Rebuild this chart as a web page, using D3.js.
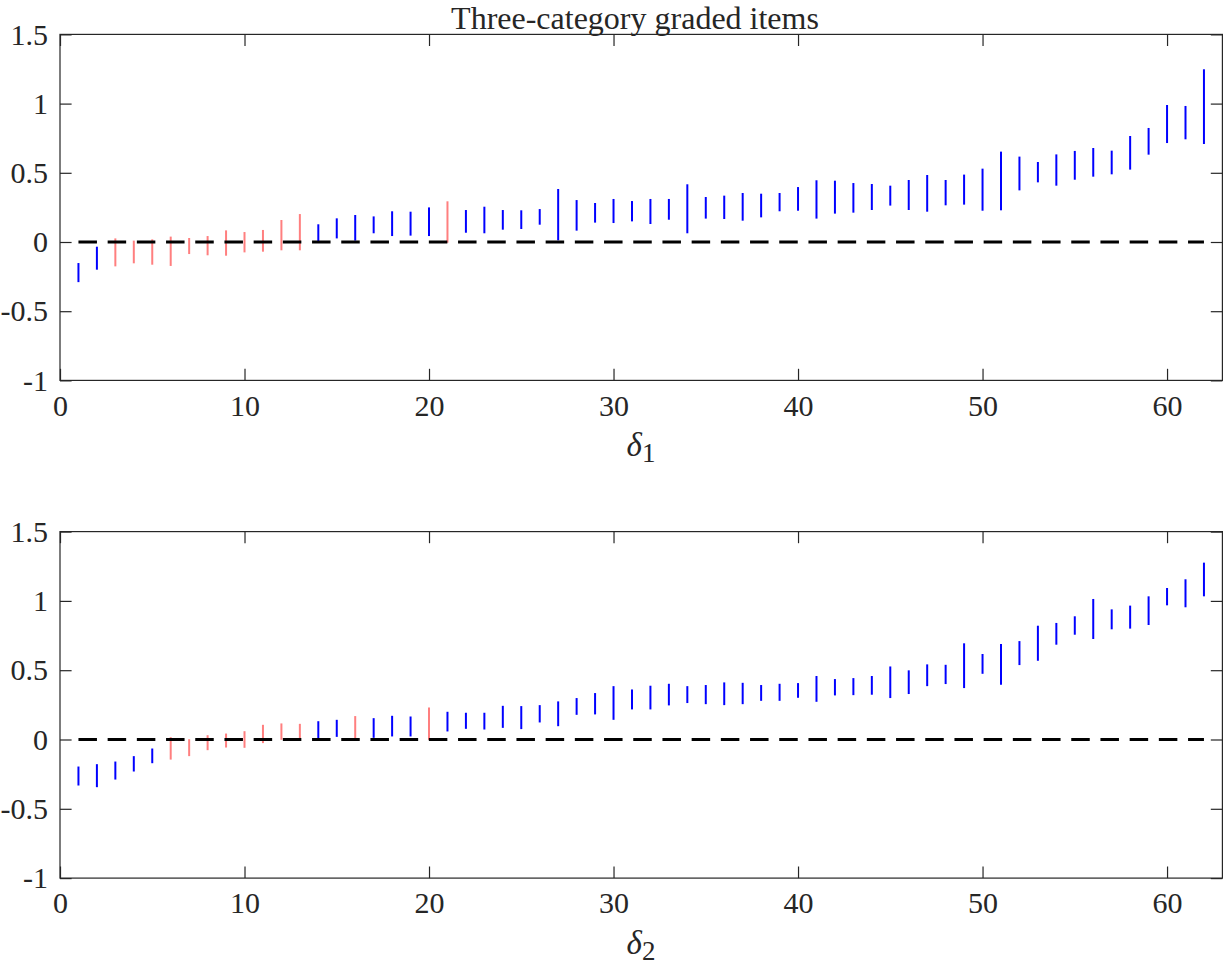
<!DOCTYPE html>
<html>
<head>
<meta charset="utf-8">
<script src="https://cdn.jsdelivr.net/npm/d3@7"></script>
<style>
  html, body { margin: 0; padding: 0; background: #fff; }
  svg { display: block; }
  text { font-family: "Liberation Serif", "Times New Roman", serif; fill: #262626; }
</style>
</head>
<body>
<svg id="chart" width="1224" height="968"></svg>
<script>
// ---- data ----
const items = d3.range(1, 63);
const d1Lower = [-0.29,-0.20,-0.176,-0.154,-0.164,-0.173,-0.087,-0.096,-0.099,-0.075,-0.070,-0.060,-0.060,0.005,0.026,0.010,0.063,0.043,0.046,0.043,-0.005,0.067,0.063,0.089,0.094,0.125,0.012,0.082,0.140,0.137,0.149,0.130,0.161,0.063,0.169,0.166,0.154,0.178,0.222,0.226,0.169,0.205,0.212,0.231,0.263,0.231,0.219,0.265,0.270,0.226,0.229,0.373,0.431,0.407,0.450,0.472,0.489,0.523,0.631,0.715,0.742,0.708];
const d1Upper = [-0.152,-0.034,0.026,0.010,0.019,0.039,0.029,0.043,0.084,0.072,0.087,0.159,0.202,0.128,0.171,0.195,0.185,0.222,0.219,0.250,0.294,0.231,0.255,0.231,0.229,0.238,0.383,0.303,0.282,0.311,0.296,0.311,0.311,0.417,0.325,0.335,0.354,0.349,0.354,0.397,0.446,0.443,0.426,0.419,0.407,0.448,0.484,0.448,0.487,0.530,0.653,0.617,0.578,0.633,0.658,0.679,0.660,0.766,0.824,0.990,0.983,1.248];
const d2Lower = [-0.332,-0.344,-0.289,-0.231,-0.171,-0.145,-0.120,-0.077,-0.058,-0.060,-0.026,-0.002,-0.002,0.005,0.019,-0.003,0.012,0.022,0.022,-0.003,0.058,0.077,0.072,0.084,0.075,0.123,0.096,0.178,0.181,0.142,0.217,0.217,0.246,0.263,0.255,0.248,0.255,0.279,0.279,0.301,0.272,0.318,0.320,0.323,0.299,0.328,0.385,0.400,0.371,0.474,0.395,0.537,0.568,0.684,0.756,0.725,0.795,0.800,0.826,0.968,0.954,1.033];
const d2Upper = [-0.195,-0.178,-0.159,-0.120,-0.065,0.017,0.002,0.031,0.043,0.060,0.106,0.116,0.113,0.132,0.142,0.169,0.154,0.171,0.166,0.231,0.200,0.193,0.193,0.243,0.241,0.248,0.275,0.299,0.335,0.385,0.361,0.388,0.402,0.385,0.393,0.412,0.409,0.393,0.402,0.407,0.458,0.436,0.443,0.458,0.527,0.499,0.542,0.539,0.694,0.617,0.689,0.710,0.821,0.841,0.889,1.014,0.939,0.966,1.033,1.093,1.156,1.276];
const xTicks = [0, 10, 20, 30, 40, 50, 60];
const yTicks = [-1, -0.5, 0, 0.5, 1, 1.5];
const yTickLabels = ["-1", "-0.5", "0", "0.5", "1", "1.5"];
const titleText = "Three-category graded items";
const panelLabels = ["1", "2"];

// ---- layout ----
const svg = d3.select("#chart");
const left = 60, right = 1222.4;
const panels = [
  { top: 34.4, bottom: 380.4, lower: d1Lower, upper: d1Upper, sub: panelLabels[0] },
  { top: 531.6, bottom: 878.1, lower: d2Lower, upper: d2Upper, sub: panelLabels[1] }
];
const axisColor = "#262626";
const tickLen = 11.6;

const x = d3.scaleLinear().domain([0, 63]).range([left, right]);

panels.forEach((p, pi) => {
  const y = d3.scaleLinear().domain([-1, 1.5]).range([p.bottom, p.top]);
  const g = svg.append("g");

  // intervals
  g.selectAll("line.ci").data(items).enter().append("line")
    .attr("class", "ci")
    .attr("x1", d => x(d)).attr("x2", d => x(d))
    .attr("y1", (d, i) => y(p.lower[i])).attr("y2", (d, i) => y(p.upper[i]))
    .attr("stroke", (d, i) => (p.lower[i] <= 0 && p.upper[i] >= 0) ? "#ff7f7f" : "#0000ff")
    .attr("stroke-width", 2);

  // zero dashed line
  g.append("line")
    .attr("x1", x(1)).attr("x2", x(62))
    .attr("y1", y(0)).attr("y2", y(0))
    .attr("stroke", "#000").attr("stroke-width", 3)
    .attr("stroke-dasharray", "18.5,10.7");

  // box
  g.append("rect")
    .attr("x", left).attr("y", p.top)
    .attr("width", right - left).attr("height", p.bottom - p.top)
    .attr("fill", "none").attr("stroke", axisColor).attr("stroke-width", 1.2);

  // axes via d3
  const xAxisB = d3.axisBottom(x).tickValues(xTicks).tickSizeInner(-tickLen).tickSizeOuter(0).tickPadding(14);
  const xAxisT = d3.axisTop(x).tickValues(xTicks).tickSizeInner(-tickLen).tickSizeOuter(0).tickFormat("");
  const yAxisL = d3.axisLeft(y).tickValues(yTicks).tickSizeInner(-tickLen).tickSizeOuter(0).tickPadding(12)
    .tickFormat((d, i) => yTickLabels[i]);
  const yAxisR = d3.axisRight(y).tickValues(yTicks).tickSizeInner(-tickLen).tickSizeOuter(0).tickFormat("");

  const styleAxis = sel => {
    sel.select(".domain").remove();
    sel.selectAll(".tick line").attr("stroke", axisColor).attr("stroke-width", 1.2);
    sel.selectAll(".tick text").attr("fill", axisColor)
      .style("font-family", '"Liberation Serif", serif').style("font-size", "30px");
  };
  g.append("g").attr("transform", `translate(0,${p.bottom})`).call(xAxisB).call(styleAxis);
  g.append("g").attr("transform", `translate(0,${p.top})`).call(xAxisT).call(styleAxis);
  g.append("g").attr("transform", `translate(${left},0)`).call(yAxisL).call(styleAxis);
  g.append("g").attr("transform", `translate(${right},0)`).call(yAxisR).call(styleAxis);

  // x label δ with subscript
  const lab = g.append("text")
    .attr("x", 641).attr("y", p.bottom + 76)
    .attr("text-anchor", "middle")
    .style("font-size", "33px").attr("fill", "#000");
  lab.append("tspan").style("font-style", "italic").text("δ");
  lab.append("tspan").attr("dy", 6).style("font-size", "27px").text(p.sub);
});

// title
svg.append("text")
  .attr("x", 635).attr("y", 29)
  .attr("text-anchor", "middle")
  .style("font-size", "32px").attr("fill", "#000")
  .text(titleText);
</script>
</body>
</html>
